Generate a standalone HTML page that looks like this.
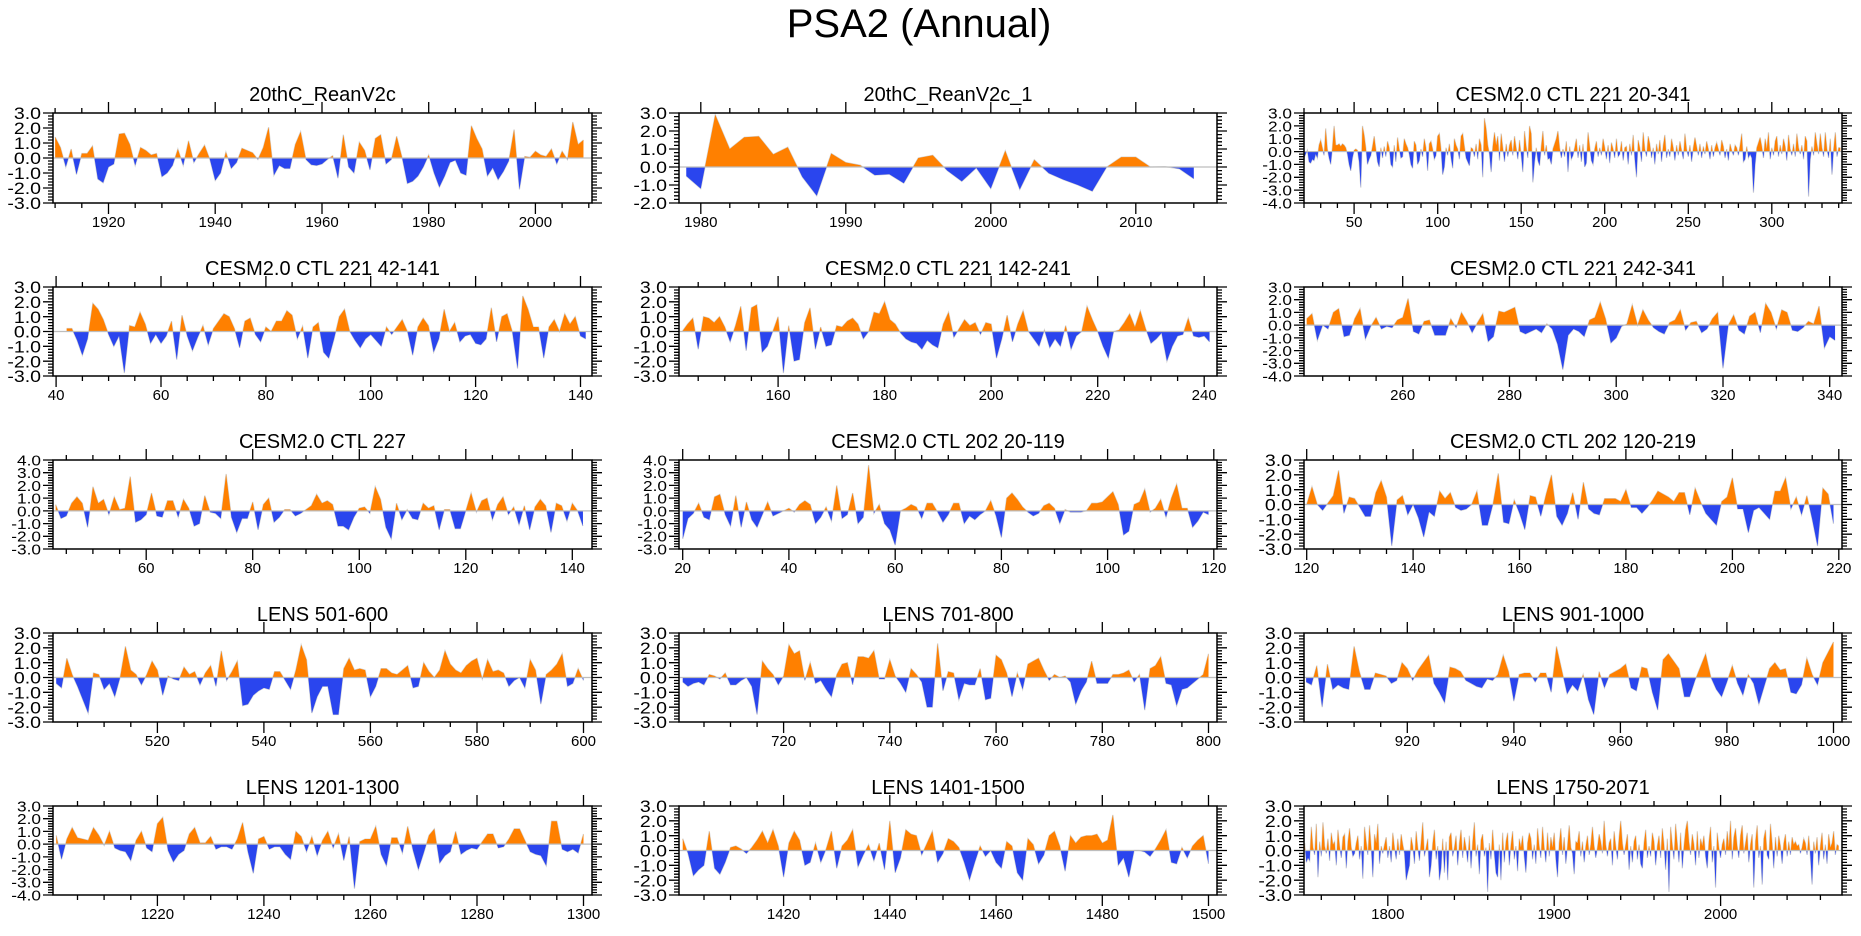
<!DOCTYPE html>
<html><head><meta charset="utf-8"><style>
html,body{margin:0;padding:0;background:#fff;}
svg{display:block;font-family:"Liberation Sans",sans-serif;}
</style></head><body>
<svg id="fig" width="1861" height="936" viewBox="0 0 1861 936" xmlns="http://www.w3.org/2000/svg">
<text x="919" y="37" font-size="40" text-anchor="middle" fill="#000">PSA2 (Annual)</text>
</svg>
<script>
// ---- data arrays (values per year, starting at given start year) ----
const titles = ["20thC_ReanV2c","20thC_ReanV2c_1","CESM2.0 CTL 221 20-341","CESM2.0 CTL 221 42-141","CESM2.0 CTL 221 142-241","CESM2.0 CTL 221 242-341","CESM2.0 CTL 227","CESM2.0 CTL 202 20-119","CESM2.0 CTL 202 120-219","LENS 501-600","LENS 701-800","LENS 901-1000","LENS 1201-1300","LENS 1401-1500","LENS 1750-2071"];
const startYears = [1910,1979,20,42,142,242,43,20,120,501,701,901,1201,1401,1750];
const xMins = [1909.6,1978.5,20,39.4,141.4,241.5,42.5,19.3,119.5,500.4,700.3,900.6,1200.4,1400.3,1749.6];
const xMaxs = [2010.6,2015.6,342,142.2,242.4,342.3,143.7,120.6,220.6,601.6,801.6,1001.6,1301.6,1501.6,2073];
const yMins = [-3,-2,-4,-3,-3,-4,-3,-3,-3,-3,-3,-3,-4,-3,-3];
const yMaxs = [3,3,3,3,3,3,4,4,3,3,3,3,3,3,3];
const xMajorSteps = [20,10,50,20,20,20,20,20,20,20,20,20,20,20,100];
const xMinorSteps = [5,2,10,5,5,5,5,5,5,5,5,5,5,5,20];

const s1 = [1.4,0.7,-0.6,0.6,-1.1,0.3,0.3,0.8,-1.4,-1.65,-0.6,-0.4,1.6,1.65,0.9,-0.5,0.7,0.5,0.2,0.3,-1.25,-1.0,-0.5,0.6,-0.5,1.15,-0.3,0.3,0.85,-0.1,-1.5,-1.0,0.4,-0.7,-0.3,0.65,0.5,0.35,-0.1,0.7,2.05,-1.15,-0.5,-0.7,-0.7,0.9,1.75,-0.1,-0.45,-0.5,-0.4,-0.1,0.15,-1.35,1.55,-0.6,-1.0,1.05,0.5,-0.8,1.3,1.55,-0.4,-0.1,1.45,0.05,-1.7,-1.55,-1.2,-0.6,0.2,-1.0,-1.95,-1.2,-0.3,-0.15,-1.0,-1.15,2.15,1.3,0.6,-1.2,-0.65,-1.45,-0.9,-0.2,1.9,-2.1,0.1,0.05,0.45,0.2,0.1,0.6,-0.4,0.45,-0.1,2.4,0.9,1.2];
const s2 = [-0.5,-1.2,2.9,1.0,1.65,1.7,0.7,1.1,-0.55,-1.6,0.75,0.25,0.1,-0.45,-0.4,-0.9,0.5,0.65,-0.2,-0.8,-0.05,-1.2,0.9,-1.25,0.4,-0.35,-0.7,-1.0,-1.35,0.0,0.55,0.55,0.0,0.02,-0.1,-0.65];
const s3 = [-0.5,-0.2,0.1,-0.8,-0.9,-0.6,-0.7,-0.2,-0.5,0.5,0.9,0.3,-0.3,1.8,0.2,-0.5,-1.0,0.3,2.0,0.5,0.5,0.6,0.4,0.6,0.5,0.3,-0.2,-1.0,-1.5,-0.5,0.1,0.2,0.1,-0.8,-2.8,2.0,1.3,0.3,-1.0,-0.6,-0.3,0.4,1.2,0.2,-0.8,-1.2,0.3,-0.5,0.4,-0.4,0.8,0.3,-1.0,-1.2,0.5,-0.8,1.1,0.2,-0.5,-0.4,1.0,0.6,0.3,-0.2,-1.0,-1.3,0.8,0.5,-1.0,-0.7,0.2,-0.4,1.0,0.3,-1.5,0.6,0.8,0.2,-0.6,-0.3,1.2,1.4,0.2,-1.8,-1.2,0.3,-0.3,0.6,-0.5,-1.3,1.0,0.5,0.2,-0.6,1.2,1.4,0.4,-0.5,-0.8,-1.1,0.3,0.2,-0.4,0.6,-0.6,1.0,0.5,-2.0,2.6,1.8,0.5,-0.2,-1.6,0.4,1.5,0.5,1.2,-0.7,1.4,0.3,-0.8,0.6,-0.4,0.5,0.9,-0.3,1.2,0.3,-0.6,0.9,-0.3,-1.6,1.6,0.4,-0.5,2.0,1.4,-2.4,-0.8,0.3,-0.7,-1.1,0.4,1.6,-0.3,0.5,-0.6,-0.5,-1.0,0.2,0.6,1.0,1.6,0.3,-0.5,0.2,-0.4,0.8,-1.6,0.4,-0.6,-0.3,0.3,1.0,-0.5,0.5,-0.8,0.6,-1.2,-0.9,1.5,0.4,-0.7,-1.0,0.2,0.8,-0.4,0.3,-0.3,1.0,0.3,-0.6,0.5,-0.9,0.7,0.2,-0.5,1.0,-0.4,-0.2,0.8,-0.7,0.3,0.4,-1.0,0.6,-0.3,1.3,-0.6,-2.0,0.9,0.3,-0.8,1.5,0.2,-0.4,1.2,0.6,-0.5,0.3,-1.0,0.6,-0.2,0.9,-0.8,0.5,1.3,-0.5,0.2,-0.4,1.0,0.3,-0.7,0.5,-0.3,0.8,0.1,-0.6,1.4,0.2,-0.4,0.5,-0.8,0.3,1.1,0.4,-0.3,0.6,-0.5,0.4,-0.2,0.8,0.2,-0.6,0.5,-0.4,0.3,0.7,0.2,-0.3,0.9,0.4,-0.5,0.2,-0.7,0.6,0.1,-0.3,0.5,0.3,-0.3,0.5,1.4,-0.8,-0.6,0.4,-0.5,-0.2,-0.5,-3.2,-1.0,0.3,0.7,1.1,0.4,-0.5,1.0,0.2,1.5,-0.6,0.3,-0.3,0.8,1.2,-0.4,0.5,-0.2,1.0,0.4,-0.7,1.3,0.2,-0.3,0.6,-0.4,1.4,0.3,-0.2,0.5,-0.6,1.2,0.8,-3.5,-0.6,0.4,-0.3,1.5,0.6,-0.2,1.4,0.3,-0.4,1.5,0.2,-0.5,1.0,-1.8,0.2,1.5,-0.4,0.3,0.3];
const s4 = [0.2,0.2,-0.6,-1.6,-0.5,1.9,1.5,0.8,-0.2,-1.0,-0.3,-2.8,0.4,0.3,1.3,0.5,-0.8,-0.2,-0.8,-0.3,0.7,-1.9,1.1,-0.3,-1.3,-0.4,0.4,-0.9,0.2,0.7,1.2,1.0,0.2,-1.1,0.7,0.9,-0.2,-0.7,0.3,0.0,0.7,0.7,1.4,1.1,-0.5,0.35,-1.8,0.3,0.6,-1.4,-1.8,-0.5,1.0,1.5,0.0,-0.6,-1.1,-0.5,-0.2,-0.6,-1.0,0.3,-0.2,0.3,0.8,0.0,-1.6,0.3,0.9,0.4,-1.4,-0.5,1.5,0.0,0.6,-0.7,-0.3,-0.2,-0.8,-0.9,-0.5,1.6,-0.7,1.0,1.2,0.0,-2.5,2.4,1.5,0.3,0.3,-1.8,0.3,0.8,0.0,1.2,0.5,1.0,-0.3,-0.5];
const s5 = [0.0,0.5,0.9,-1.2,1.0,0.9,0.6,1.0,0.3,-0.7,0.4,1.7,-1.3,1.6,1.8,-1.4,-1.0,0.0,1.0,-2.8,0.4,-2.0,-1.9,0.6,1.6,-1.2,0.3,-1.0,-0.9,0.4,0.3,0.7,0.9,0.5,-0.5,0.0,1.3,1.2,2.0,0.8,0.5,-0.1,-0.5,-0.7,-0.8,-1.2,-0.6,-0.9,-1.1,0.5,1.3,-0.4,0.2,0.8,0.4,0.6,-0.2,0.6,0.5,-1.8,-0.5,1.1,-0.7,0.5,1.4,0.0,-0.5,-1.0,0.1,-1.1,-0.5,-1.0,0.4,-1.2,-0.3,0.0,1.7,0.8,0.0,-1.0,-1.8,0.0,0.1,0.6,1.2,0.3,1.4,0.2,-0.8,-0.5,-0.1,-2.0,-1.0,-0.3,-0.2,0.9,-0.3,-0.4,-0.3,-0.7];
const s6 = [0.5,0.9,-1.2,0.0,-0.3,1.0,1.3,-0.9,-0.8,0.5,1.3,-1.1,-0.1,0.6,-0.3,-0.1,-0.2,0.4,0.6,2.1,-0.5,-0.7,0.3,0.4,-0.8,-0.8,-0.8,0.5,-0.2,1.0,0.3,-0.6,0.2,0.9,-1.3,-0.9,1.1,1.0,1.2,1.4,-0.5,-0.7,-0.5,-0.3,-0.6,0.1,-0.3,-1.5,-3.5,-0.8,-0.3,-0.5,-0.9,0.4,0.6,1.8,0.5,-1.4,-1.0,-0.1,0.1,1.6,0.0,1.2,0.4,-0.2,-0.5,-0.7,0.2,0.4,1.2,-0.4,0.2,0.3,-0.6,-0.3,0.5,1.0,-3.4,0.0,0.8,-0.4,-0.7,0.7,1.0,-0.6,1.7,1.0,-0.3,1.2,1.0,-0.4,-0.5,-0.2,0.3,0.1,1.5,-1.8,-0.9,-1.2];
const s7 = [0.5,-0.6,-0.4,0.6,1.1,0.6,-1.3,1.9,0.6,0.9,-0.3,1.1,0.1,0.2,2.7,-0.9,-0.7,-0.3,1.4,-0.4,-0.5,0.8,0.8,-0.5,0.9,0.2,-1.2,-1.0,1.2,-0.1,-0.2,-0.6,2.9,-0.5,-1.7,-0.6,-0.6,0.7,-1.5,0.5,1.0,-0.9,-0.5,0.1,0.1,-0.4,-0.2,0.1,0.4,1.3,0.6,0.8,0.5,-1.2,-1.2,-1.5,-0.5,0.2,0.3,-0.2,1.9,0.9,-1.3,-2.2,0.6,-0.7,0.1,-0.6,-0.7,0.6,0.2,0.4,-1.5,0.1,0.1,-1.4,-1.4,0.0,1.4,-0.1,0.8,1.0,-0.7,0.5,1.1,-0.3,0.3,-1.1,0.4,-1.5,0.3,0.9,0.4,-1.7,0.6,0.4,-0.8,0.6,0.0,-1.2];
const s8 = [-2.2,-0.6,-0.2,0.6,-0.5,-0.7,1.1,1.3,-0.3,-1.2,1.2,-1.3,0.7,-0.7,-1.3,-0.3,0.7,-0.4,-0.2,0.0,0.2,-0.1,0.5,0.8,0.5,-1.0,-0.5,0.3,-0.8,2.0,-0.6,-0.3,1.4,-1.0,-0.5,3.6,-0.2,0.5,-1.0,-1.5,-2.7,0.0,0.2,0.5,0.3,-0.6,0.6,0.6,-0.1,-0.9,-0.3,0.6,0.6,-1.0,-0.4,-0.7,-0.3,0.0,0.8,-0.4,-2.1,1.0,1.4,0.9,0.3,-0.1,-0.4,-0.2,0.4,0.6,0.2,-1.0,0.1,-0.1,-0.1,-0.1,0.0,0.6,0.6,0.7,1.1,1.5,0.5,-1.9,-1.6,0.5,0.7,1.7,-0.1,0.2,0.9,-0.5,1.0,2.1,0.2,0.2,-1.3,-0.8,-0.1,-0.3];
const s9 = [0.0,1.2,0.0,-0.4,0.1,0.6,2.3,-0.6,0.5,0.4,-0.2,-0.8,-0.8,0.8,1.6,0.5,-2.8,0.3,0.6,-0.7,0.0,-0.9,-2.2,-0.5,-0.8,0.9,0.4,0.8,-0.2,-0.4,-0.3,0.0,0.9,-1.4,-1.4,0.0,2.1,-1.2,-1.3,0.3,-0.6,-1.7,0.6,0.5,-0.8,0.7,2.0,-0.8,-1.4,-0.6,0.8,-1.0,1.5,-0.3,-0.6,-0.7,0.4,0.4,0.4,0.2,1.0,-0.2,-0.2,-0.6,-0.2,0.3,0.9,0.7,0.5,0.2,0.8,0.8,-0.7,1.1,0.2,-0.6,-1.0,-1.4,0.2,0.5,1.8,-0.3,-0.3,-1.9,-0.4,-0.2,-0.6,-1.0,0.9,0.9,1.8,-0.3,0.5,-0.7,0.6,-1.0,-2.8,1.1,0.7,-1.3];
const s10 = [-0.4,-0.7,1.3,0.2,-0.6,-1.5,-2.4,0.3,0.2,-0.8,-0.4,-1.3,0.0,2.1,0.5,0.2,-0.5,0.2,1.1,0.5,-1.2,0.1,-0.1,-0.2,0.7,0.2,0.4,-0.5,0.3,0.8,-0.6,1.8,-0.2,0.4,1.1,-1.9,-1.8,-1.2,-0.9,-0.7,-0.8,0.4,0.4,-0.2,-0.8,0.5,2.2,1.2,-2.4,-1.3,-0.6,-0.6,-2.5,-2.5,0.6,1.3,0.5,0.6,0.5,-1.3,-0.6,0.6,0.6,0.3,0.2,0.5,0.8,-0.7,-0.6,1.0,0.4,0.0,0.5,1.8,0.9,0.5,0.3,0.8,1.1,1.3,-0.1,1.2,0.4,0.5,0.3,-0.6,-0.2,0.0,-0.7,1.2,0.5,-1.8,0.2,0.5,0.9,1.6,-0.6,-0.4,0.6,-0.2];
const s11 = [-0.3,-0.6,-0.4,-0.3,-0.5,0.2,0.1,-0.1,0.3,-0.5,-0.5,-0.2,0.0,-0.6,-2.5,1.1,0.6,0.2,-0.5,0.1,2.2,1.6,1.8,-0.2,1.0,-0.4,-0.2,-0.8,-1.3,0.2,0.9,1.0,-0.5,1.4,1.4,1.3,1.8,-0.1,-0.1,1.2,0.1,-0.4,-1.0,0.6,0.2,-0.3,-2.0,-2.0,2.3,-0.9,0.4,0.3,-1.5,-0.4,-0.5,-0.5,0.6,-1.5,-1.4,1.5,1.2,0.3,-1.3,0.3,-0.8,0.9,1.1,1.3,0.5,-0.2,0.2,0.0,0.1,-0.3,-1.8,-0.9,-0.3,1.1,-0.4,-0.4,-0.4,0.2,0.2,0.3,0.5,-0.3,0.2,-2.2,0.6,0.8,1.4,-0.4,-0.5,-1.9,-0.8,-0.7,-0.4,-0.1,0.2,1.6];
const s12 = [-0.3,-0.5,0.8,-2.0,0.9,-0.8,-0.5,-0.7,-0.8,2.1,0.4,-0.8,-0.8,0.3,0.2,0.1,-0.4,-0.2,1.0,0.6,-0.2,0.5,1.0,1.5,-0.4,-1.0,-1.7,0.7,0.6,0.4,-0.2,-0.4,-0.6,-0.7,-0.1,-0.2,0.2,1.5,0.4,-1.6,0.2,0.3,0.3,-0.3,0.3,0.3,-1.0,2.1,0.5,-1.1,-0.5,-0.9,0.2,-1.5,-2.5,0.4,-0.7,0.2,0.4,0.6,0.9,-0.7,-0.9,0.7,0.6,-1.0,-2.2,1.2,1.6,1.1,0.6,-1.3,-1.3,-0.2,0.7,1.6,0.0,-0.8,-1.3,-0.3,0.8,-0.4,-1.2,0.2,-0.4,-1.8,-0.6,0.6,1.0,0.5,0.6,-1.0,-1.1,-0.5,1.3,0.2,-0.5,1.0,1.7,2.4];
const s13 = [0.7,-1.2,0.4,1.3,0.5,0.4,0.3,1.3,0.7,-0.1,1.0,-0.3,-0.5,-0.6,-1.3,0.3,1.0,-0.3,-0.6,1.6,2.1,-0.5,-1.4,-0.8,-0.5,0.8,1.3,0.1,0.1,0.6,-0.4,-0.2,-0.2,-0.4,0.4,1.7,-0.6,-2.3,0.4,0.6,-0.4,-0.2,-0.2,-0.8,-1.2,1.0,0.6,-0.6,0.6,-0.9,0.3,1.0,-0.3,0.8,-1.3,0.6,-3.5,0.2,0.4,0.4,1.4,-0.8,-1.7,0.5,0.5,-0.7,1.4,-0.5,-2.0,-0.7,0.7,1.2,-1.5,-0.9,-0.6,1.0,-0.8,-0.5,-0.3,-0.4,0.2,0.8,0.8,-0.3,-0.2,0.4,1.2,1.2,0.3,-0.6,-0.8,-0.9,-1.7,1.8,1.8,-0.4,-0.6,-0.4,-0.7,0.8];
const s14 = [0.8,-0.2,-1.7,-1.3,-1.0,1.3,-1.2,-1.6,-0.8,0.2,0.3,0.1,-0.2,0.2,0.7,1.3,0.5,1.4,0.3,-1.8,0.5,1.3,0.7,-1.0,-0.8,0.5,-0.8,0.1,1.3,-1.2,0.3,0.7,1.4,-1.1,-0.3,0.4,-0.7,0.5,-1.3,2.0,-1.5,-0.5,1.4,1.1,1.0,-0.3,0.5,1.3,-0.8,-0.2,0.8,0.6,0.2,-0.8,-2.0,-0.8,0.3,-0.4,0.0,-0.8,-1.2,0.6,0.3,-1.5,-2.0,0.8,0.4,-0.9,-0.3,1.0,1.3,0.3,-1.4,1.0,0.5,0.9,1.0,1.0,1.1,0.5,0.7,2.4,-1.0,-0.5,-1.8,0.0,0.0,-0.1,-0.4,0.1,0.7,1.4,-0.8,-0.9,0.2,-0.5,0.3,0.7,1.0,-0.9];
const s15 = [0.5,-0.8,-0.5,-0.7,1.6,0.2,-0.3,1.8,-1.8,0.6,-0.4,1.9,0.3,-0.2,0.8,-0.7,1.2,0.4,0.6,-1.0,1.4,0.3,-0.5,0.9,1.1,-1.2,0.6,1.5,0.2,-0.4,-0.2,0.5,1.0,-0.6,0.3,-1.9,1.6,0.6,-0.3,1.7,0.2,-1.8,1.1,0.5,1.8,-0.9,0.3,-0.2,0.4,0.9,-0.5,0.3,-0.8,1.2,0.2,-0.6,0.8,-0.3,1.1,0.4,-0.2,-2.0,-1.5,-1.0,0.9,0.3,-0.9,1.3,0.2,-0.7,0.6,1.9,-0.4,0.2,0.8,-1.8,-1.0,0.5,1.4,-0.6,0.3,-2.0,-1.2,0.8,-1.5,0.6,-2.0,0.9,1.2,-0.4,0.2,1.0,-1.0,0.5,1.4,-0.5,0.9,0.2,-0.8,1.0,-1.2,0.6,1.9,-0.4,0.4,-1.6,0.7,1.1,-0.4,0.2,-2.8,0.5,-0.6,1.4,-0.2,-1.5,-1.8,0.4,-2.0,1.2,-0.8,0.6,1.2,-1.0,0.4,1.3,-0.6,0.3,-1.4,0.8,0.2,1.0,-0.4,-1.5,0.5,1.2,0.8,-0.6,0.4,-0.9,1.5,0.3,-0.5,1.6,0.2,-0.8,1.2,-0.4,0.9,0.2,1.2,-0.6,-1.8,0.5,1.5,-0.3,0.9,-0.9,0.3,1.7,0.2,-0.2,-1.6,0.6,0.5,1.3,-0.4,0.6,-0.8,0.3,1.0,-0.3,0.4,1.6,0.3,-0.5,0.2,1.1,0.6,-0.2,2.0,0.4,-0.4,0.5,0.8,-1.0,1.3,0.3,-0.6,0.9,2.0,0.5,-0.3,0.4,1.1,-1.3,0.3,-0.8,0.6,1.0,-0.6,0.4,-0.9,-1.2,0.5,1.4,-0.5,0.3,-0.4,1.2,0.6,-1.0,0.3,1.0,-0.5,1.5,0.4,-1.3,0.8,-2.8,1.6,0.4,-0.6,1.8,0.5,-0.8,1.2,-1.2,0.3,1.4,2.0,0.6,-0.3,1.1,0.4,-1.0,1.3,-0.5,0.8,0.3,1.0,-0.4,-1.2,0.6,1.6,-0.8,0.3,-2.5,1.2,0.2,-0.5,0.4,0.8,-0.3,1.3,0.2,2.0,-0.6,0.9,1.5,0.3,-0.5,1.0,1.7,-0.2,0.5,1.2,-0.8,0.4,1.1,-2.5,0.6,1.7,-0.5,0.3,-2.3,0.8,1.4,-0.3,-0.6,1.8,0.5,-1.2,0.9,-0.4,1.0,0.3,-0.9,0.5,1.1,-0.4,0.6,-0.3,0.9,0.4,0.6,0.3,0.4,-0.2,0.2,0.8,0.5,-0.3,1.0,-0.4,-2.3,0.6,-0.2,0.9,-1.0,0.3,1.2,-0.6,0.4,-0.9,1.1,0.2,0.5,1.3,-0.3,0.4,0.3];
const series = [s1,s2,s3,s4,s5,s6,s7,s8,s9,s10,s11,s12,s13,s14,s15];

// ---- layout ----
const colLeft = [53, 679, 1304];
const colRight = [592, 1217, 1842];
const rowTop = [113, 287, 460, 633, 806];
const rowH = [90, 89, 89, 89, 89];
const NS = "http://www.w3.org/2000/svg";
const svg = document.getElementById("fig");
function mk(tag, attrs, parent) {
  const e = document.createElementNS(NS, tag);
  for (const k in attrs) e.setAttribute(k, attrs[k]);
  (parent || svg).appendChild(e);
  return e;
}
function fmt(v){ return v.toFixed(1); }

titles.forEach((t, i) => {
  const col = i % 3, row = Math.floor(i / 3);
  const L = colLeft[col], R = colRight[col], T = rowTop[row], B = T + rowH[row];
  const x0 = xMins[i], x1 = xMaxs[i], y0 = yMins[i], y1 = yMaxs[i];
  const xs = v => L + (v - x0) / (x1 - x0) * (R - L);
  const ys = v => B - (v - y0) / (y1 - y0) * (B - T);
  const g = mk("g", {});
  
  

  const tt = mk("text", {x: (L + R) / 2, y: T - 12, "font-size": 20, "text-anchor": "middle", fill: "#000"}, g);
  tt.textContent = t;
  
  

  const vals = series[i];
  const st = startYears[i];
  const cid = "clip" + i;
  const defs = mk("defs", {}, g);
  const cpPos = mk("clipPath", {id: cid + "p"}, defs);
  mk("rect", {x: L, y: T, width: R - L, height: ys(0) - T}, cpPos);
  const cpNeg = mk("clipPath", {id: cid + "n"}, defs);
  mk("rect", {x: L, y: ys(0), width: R - L, height: B - ys(0)}, cpNeg);

  let pts = [];
  vals.forEach((v, k) => pts.push(xs(st + k).toFixed(2) + "," + ys(v).toFixed(2)));
  const line = pts.join(" ");
  const area = xs(st).toFixed(2) + "," + ys(0).toFixed(2) + " " + line + " " + xs(st + vals.length - 1).toFixed(2) + "," + ys(0).toFixed(2);

  const outline = mk("polyline", {points: line, fill: "none", stroke: "#d4d4d4", "stroke-width": 1.2}, g);
  
  
  const pos = mk("polygon", {points: area, fill: "#ff8000", "clip-path": "url(#" + cid + "p)"}, g);
  
  
  const neg = mk("polygon", {points: area, fill: "#2a45ee", "clip-path": "url(#" + cid + "n)"}, g);
  
  
  const zl = mk("line", {x1: L, x2: R, y1: ys(0), y2: ys(0), stroke: "#bdbdbd", "stroke-width": 1.2}, g);
  
  

  const fr = mk("rect", {x: L, y: T, width: R - L, height: B - T, fill: "none", stroke: "#000", "stroke-width": 1.5}, g);
  
  

  // x ticks
  const ms = xMinorSteps[i], MS = xMajorSteps[i];
  let tk = "";
  for (let v = Math.ceil(x0 / ms) * ms; v <= x1 + 1e-9; v += ms) {
    const X = xs(v).toFixed(1);
    const major = Math.abs(v / MS - Math.round(v / MS)) < 1e-9;
    const len = major ? 11 : 5;
    tk += `M${X},${B}v${len}M${X},${T}v${-len}`;
    if (major) {
      const lb = mk("text", {x: X, y: B + 24, "font-size": 15, "text-anchor": "middle", fill: "#000"}, g);
      lb.textContent = String(v);
      
      
    }
  }
  // y ticks
  const nLab = Math.round(y1 - y0) + 1;
  const yfs = nLab > 7 ? 15 : 17;
  for (let k = Math.round(y0 * 5); k <= Math.round(y1 * 5); k++) {
    const v = k / 5;
    const Y = ys(v).toFixed(1);
    const major = k % 5 === 0;
    const len = major ? 10 : 5;
    tk += `M${L},${Y}h${-len}M${R},${Y}h${len}`;
    if (major) {
      const lb = mk("text", {x: L - 12, y: Y, dy: "0.36em", "font-size": yfs, "text-anchor": "end", fill: "#000", transform: `translate(${L - 12},0) scale(1.15,1) translate(${-(L - 12)},0)`}, g);
      lb.textContent = fmt(v);
      
      
    }
  }
  const tp = mk("path", {d: tk, stroke: "#000", "stroke-width": 1.3, fill: "none"}, g);
  
  
});
</script>
</body></html>
